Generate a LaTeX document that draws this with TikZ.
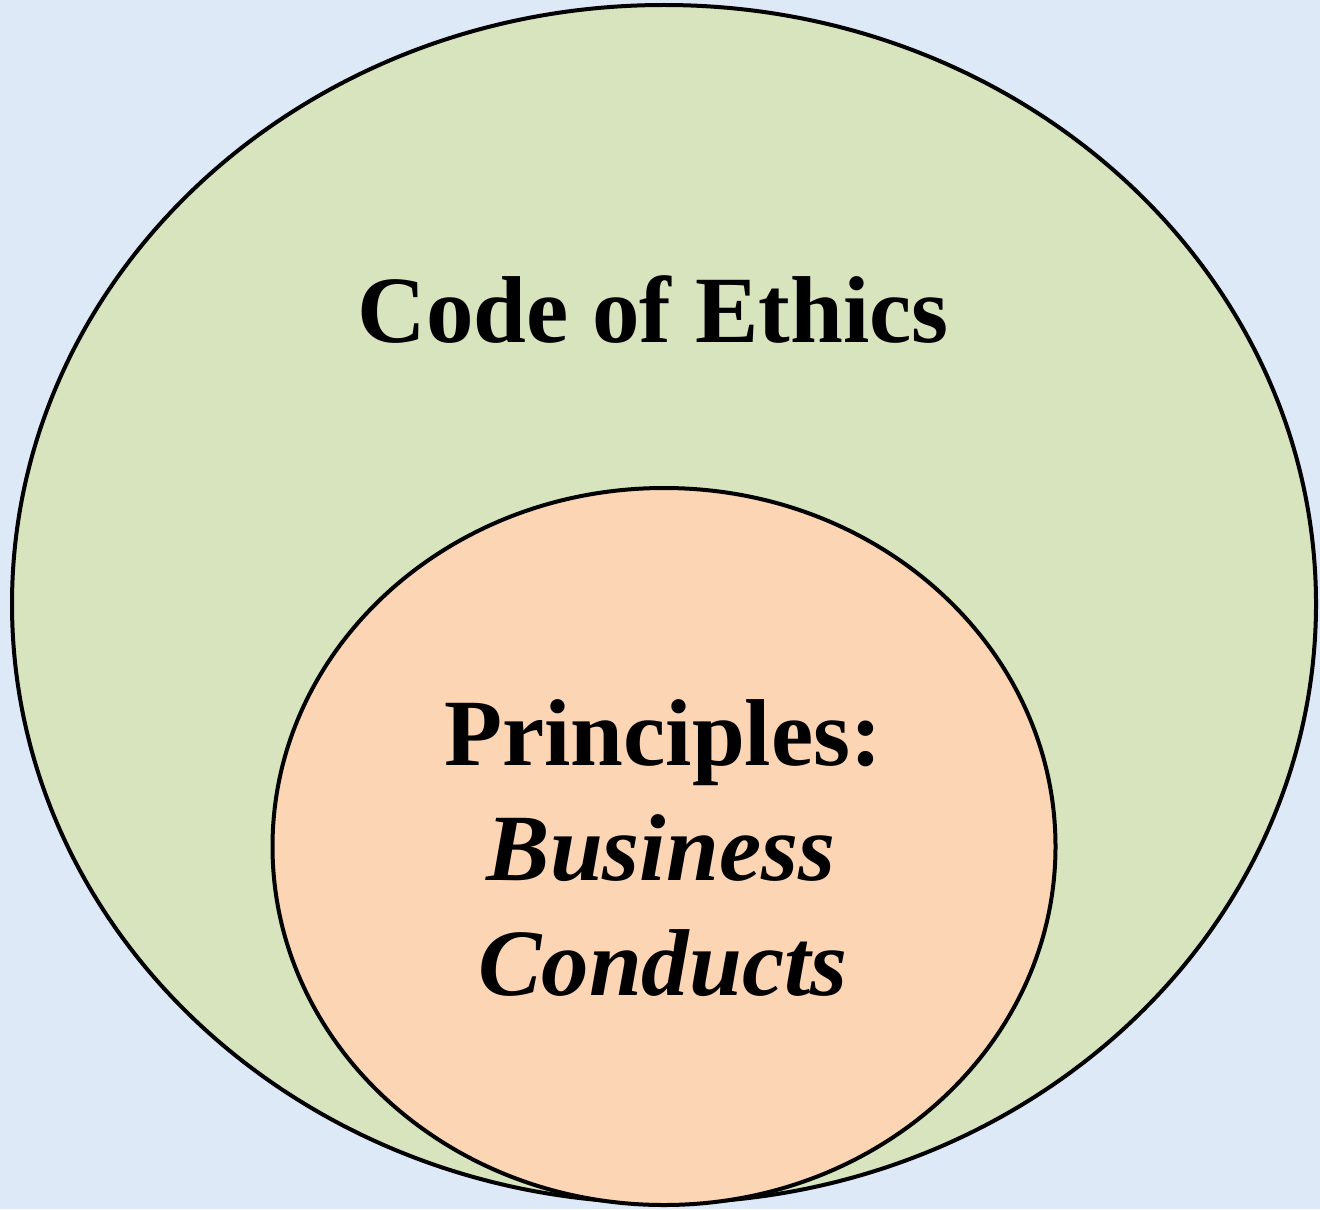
\documentclass[tikz,border=0pt]{standalone}
\usepackage{fontspec}
\setmainfont{Liberation Serif}
\usetikzlibrary{shapes.geometric,positioning}

\definecolor{paleblue}{HTML}{DDE9F7}
\definecolor{ethicsgreen}{HTML}{D7E4BD}
\definecolor{conductpeach}{HTML}{FCD5B5}

\begin{document}
\begin{tikzpicture}[x=0.5pt,y=-0.5pt,
line width=2pt]
\tikzstyle{ring}=[ellipse,draw=black,inner sep=0pt,line width=2pt]
\tikzstyle{label}=[inner sep=0pt,align=center,text=black,font=\fontsize{47.5}{57.5}\selectfont\bfseries]

\useasboundingbox (0,0) rectangle (1320,1209);
\fill[paleblue] (0,0) rectangle (1320,1209);

\node[ring,fill=ethicsgreen,minimum width=652pt,minimum height=599pt]   (ethics)   at (664,604) {};
\node[ring,fill=conductpeach,minimum width=391.5pt,minimum height=358.5pt] (conduct) at (664,846.5) {};

\node[label,anchor=base] (ethicstext)   at (653,342) {Code of Ethics};
\node[label,anchor=base] (principles)   at (663,765) {Principles:};
\node[label,anchor=base] (business)     at (661,880) {\itshape Business};
\node[label,anchor=base] (conducts)     at (663,995) {\itshape Conducts};
\end{tikzpicture}
\end{document}
